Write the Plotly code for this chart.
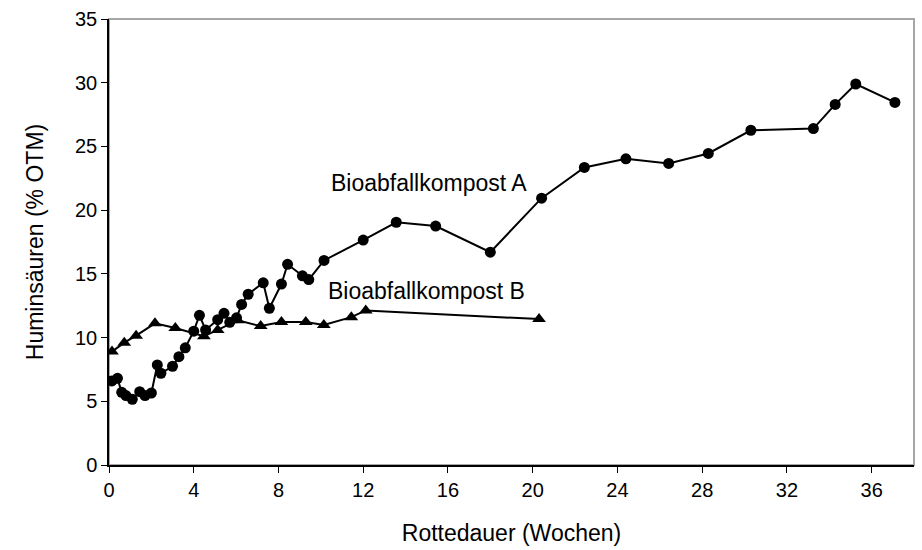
import plotly.graph_objects as go

# Bioabfallkompost A (circles)
weeks_a = [0.14, 0.4, 0.6, 0.8, 1.1, 1.45, 1.7, 2.0, 2.28, 2.45, 3.0, 3.3, 3.6,
           4.0, 4.27, 4.56, 5.13, 5.43, 5.7, 6.02, 6.26, 6.57, 7.28, 7.57, 8.14,
           8.43, 9.13, 9.43, 10.15, 12.0, 13.56, 15.42, 18.0, 20.42, 22.44, 24.4,
           26.42, 28.29, 30.3, 33.25, 34.28, 35.25, 37.1]
humin_a = [6.6, 6.8, 5.7, 5.45, 5.15, 5.75, 5.45, 5.65, 7.85, 7.2, 7.75, 8.5, 9.2,
           10.5, 11.75, 10.6, 11.4, 11.9, 11.2, 11.55, 12.6, 13.4, 14.3, 12.3, 14.2,
           15.75, 14.85, 14.55, 16.05, 17.65, 19.05, 18.75, 16.7, 20.94, 23.35, 24.03,
           23.67, 24.45, 26.27, 26.4, 28.3, 29.9, 28.45]

# Bioabfallkompost B (triangles)
weeks_b = [0.14, 0.72, 1.28, 2.17, 3.13, 4.48, 5.13, 6.08, 7.16, 8.14, 9.29,
           10.14, 11.44, 12.12, 20.3]
humin_b = [8.9, 9.6, 10.15, 11.12, 10.75, 10.1, 10.6, 11.35, 10.9, 11.22, 11.22,
           10.98, 11.6, 12.13, 11.45]

x_ticks = list(range(0, 37, 4))
y_ticks = list(range(0, 36, 5))

FONT = "Liberation Sans, Arial, sans-serif"

fig = go.Figure()
fig.add_trace(go.Scatter(
    x=weeks_a, y=humin_a, mode="lines+markers", name="Bioabfallkompost A",
    line=dict(color="black", width=2),
    marker=dict(symbol="circle", size=11, color="black"),
))
fig.add_trace(go.Scatter(
    x=weeks_b, y=humin_b, mode="lines+markers", name="Bioabfallkompost B",
    line=dict(color="black", width=2),
    marker=dict(symbol="triangle-up", size=12, color="black"),
))

# grey frame on top and right of the plot area
fig.add_shape(type="rect", xref="paper", yref="paper", x0=0, y0=0, x1=1, y1=1,
              line=dict(color="#a6a6a6", width=2), layer="below")

fig.add_annotation(x=15.1, y=22.1, text="Bioabfallkompost A", showarrow=False,
                   font=dict(size=23, color="black", family=FONT))
fig.add_annotation(x=15.0, y=13.65, text="Bioabfallkompost B", showarrow=False,
                   font=dict(size=23, color="black", family=FONT))

fig.update_layout(
    width=922, height=550,
    margin=dict(l=109, r=8, t=18, b=84),
    paper_bgcolor="white", plot_bgcolor="white",
    showlegend=False,
    font=dict(family=FONT, size=20, color="black"),
    xaxis=dict(
        range=[0, 38], tickvals=x_ticks, ticktext=[str(v) for v in x_ticks],
        showline=True, linecolor="black", linewidth=1.5,
        ticks="outside", ticklen=6, tickcolor="black", tickwidth=1,
        tickfont=dict(size=20),
        showgrid=False, zeroline=False,
        title=dict(text="Rottedauer (Wochen)", standoff=25, font=dict(size=23)),
    ),
    yaxis=dict(
        range=[0, 35], tickvals=y_ticks, ticktext=[str(v) for v in y_ticks],
        showline=True, linecolor="black", linewidth=1.5,
        ticks="outside", ticklen=6, tickcolor="black", tickwidth=1,
        tickfont=dict(size=20),
        showgrid=False, zeroline=False,
        title=dict(text="Huminsäuren (% OTM)", standoff=25, font=dict(size=23)),
    ),
)

fig.write_html("out.html")
